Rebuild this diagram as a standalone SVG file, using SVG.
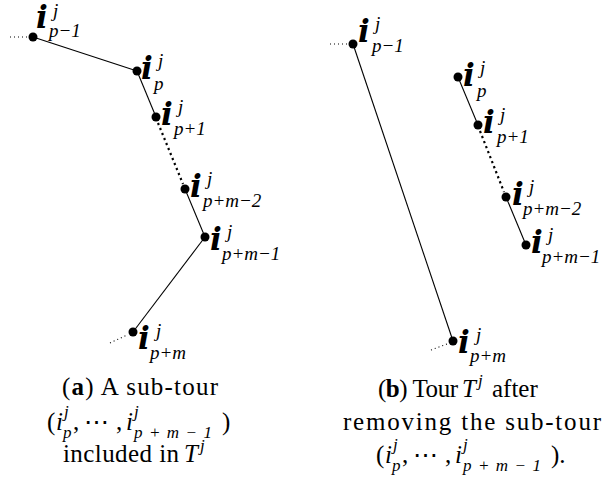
<svg xmlns="http://www.w3.org/2000/svg" width="602" height="478" viewBox="0 0 602 478">
<style>
text{font-family:"Liberation Serif","Times New Roman",serif;fill:#000}
.bi{font-family:"DejaVu Serif",serif;font-size:31px;font-weight:bold;font-style:italic}
.sc{font-size:19px;font-style:italic}
.cs{font-size:17px;font-style:italic}
.cap{font-size:25px}
.it{font-style:italic}
.b{font-weight:bold}
.dt{font-family:"DejaVu Serif",serif}
.dot{fill:#000}
.solid{stroke:#000;stroke-width:1.1;fill:none}
.lead{stroke:#000;stroke-width:1.1;stroke-dasharray:1 3;fill:none}
.gap{stroke:#000;stroke-width:2.2;stroke-dasharray:2.2 3.2;fill:none}
</style>
<g id="connectors">
<line class="lead" x1="10" y1="37" x2="27" y2="37"/>
<line class="solid" x1="33" y1="37" x2="137" y2="71"/>
<line class="solid" x1="137" y1="71" x2="156" y2="117"/>
<line class="gap" x1="158" y1="123" x2="183" y2="184"/>
<line class="solid" x1="185" y1="189" x2="205" y2="237"/>
<line class="solid" x1="205" y1="237" x2="133" y2="332"/>
<line class="lead" x1="110" y1="343" x2="127" y2="335"/>
<line class="lead" x1="330" y1="44" x2="347" y2="44"/>
<line class="solid" x1="353" y1="44" x2="453" y2="341"/>
<line class="solid" x1="458" y1="77" x2="478" y2="125"/>
<line class="gap" x1="480" y1="131" x2="504" y2="192"/>
<line class="solid" x1="506" y1="197" x2="526" y2="245"/>
<line class="lead" x1="431" y1="350" x2="447" y2="344"/>
</g>
<g id="a-pm1"><circle class="dot" cx="33" cy="37" r="4.5"/><text><tspan class="bi" x="36" y="28">i</tspan><tspan class="sc" x="53" y="17">j</tspan><tspan class="sc" x="49" y="37">p−1</tspan></text></g>
<g id="a-p"><circle class="dot" cx="137" cy="71" r="4.5"/><text><tspan class="bi" x="141" y="79">i</tspan><tspan class="sc" x="158" y="67">j</tspan><tspan class="sc" x="154" y="90">p</tspan></text></g>
<g id="a-pp1"><circle class="dot" cx="156" cy="117" r="4.5"/><text><tspan class="bi" x="161" y="125">i</tspan><tspan class="sc" x="178" y="113">j</tspan><tspan class="sc" x="174" y="135">p+1</tspan></text></g>
<g id="a-pm2"><circle class="dot" cx="185" cy="189" r="4.5"/><text><tspan class="bi" x="190" y="197">i</tspan><tspan class="sc" x="207" y="185">j</tspan><tspan class="sc" x="203" y="207">p+m−2</tspan></text></g>
<g id="a-pm1b"><circle class="dot" cx="205" cy="237" r="4.5"/><text><tspan class="bi" x="210" y="250">i</tspan><tspan class="sc" x="227" y="238">j</tspan><tspan class="sc" x="222" y="260">p+m−1</tspan></text></g>
<g id="a-pm"><circle class="dot" cx="133" cy="332" r="4.5"/><text><tspan class="bi" x="138" y="349">i</tspan><tspan class="sc" x="156" y="337">j</tspan><tspan class="sc" x="150" y="359">p+m</tspan></text></g>
<g id="b-pm1"><circle class="dot" cx="353" cy="44" r="4.5"/><text><tspan class="bi" x="358" y="42">i</tspan><tspan class="sc" x="375" y="30">j</tspan><tspan class="sc" x="372" y="52">p−1</tspan></text></g>
<g id="b-p"><circle class="dot" cx="458" cy="77" r="4.5"/><text><tspan class="bi" x="463" y="86">i</tspan><tspan class="sc" x="480" y="74">j</tspan><tspan class="sc" x="477" y="97">p</tspan></text></g>
<g id="b-pp1"><circle class="dot" cx="478" cy="125" r="4.5"/><text><tspan class="bi" x="483" y="133">i</tspan><tspan class="sc" x="500" y="121">j</tspan><tspan class="sc" x="497" y="143">p+1</tspan></text></g>
<g id="b-pm2"><circle class="dot" cx="506" cy="197" r="4.5"/><text><tspan class="bi" x="512" y="205">i</tspan><tspan class="sc" x="529" y="193">j</tspan><tspan class="sc" x="523" y="215">p+m−2</tspan></text></g>
<g id="b-pm1b"><circle class="dot" cx="526" cy="245" r="4.5"/><text><tspan class="bi" x="531" y="253">i</tspan><tspan class="sc" x="548" y="241">j</tspan><tspan class="sc" x="542" y="263">p+m−1</tspan></text></g>
<g id="b-pm"><circle class="dot" cx="453" cy="341" r="4.5"/><text><tspan class="bi" x="458" y="353">i</tspan><tspan class="sc" x="476" y="341">j</tspan><tspan class="sc" x="470" y="362">p+m</tspan></text></g>
<g id="caption-a">
<text class="cap" x="62" y="395" textLength="156" lengthAdjust="spacing">(<tspan class="b">a</tspan>) A sub-tour</text>
<text class="cap"><tspan x="47" y="430">(</tspan><tspan class="it" x="56" y="430">i</tspan><tspan class="cs" x="64" y="417">j</tspan><tspan class="cs" x="63" y="438">p</tspan><tspan x="73" y="430">,</tspan><tspan class="dt" x="84" y="430" textLength="28">⋯</tspan><tspan x="116" y="430">,</tspan><tspan class="it" x="126" y="430">i</tspan><tspan class="cs" x="134" y="417">j</tspan><tspan class="cs" x="134" y="438" textLength="78" lengthAdjust="spacing">p+m−1</tspan><tspan x="222" y="430">)</tspan></text>
<text class="cap"><tspan x="63" y="462" textLength="116" lengthAdjust="spacing">included in</tspan><tspan class="it" x="184" y="462">T</tspan><tspan class="cs" x="200" y="451">j</tspan></text>
</g>
<g id="caption-b">
<text class="cap"><tspan x="378" y="397" textLength="80" lengthAdjust="spacing">(<tspan class="b">b</tspan>) Tour</tspan><tspan class="it" x="462" y="397">T</tspan><tspan class="cs" x="478" y="386">j</tspan><tspan x="492" y="397">after</tspan></text>
<text class="cap" x="343" y="430" textLength="258" lengthAdjust="spacing">removing the sub-tour</text>
<text class="cap"><tspan x="376" y="463">(</tspan><tspan class="it" x="385" y="463">i</tspan><tspan class="cs" x="393" y="450">j</tspan><tspan class="cs" x="392" y="471">p</tspan><tspan x="402" y="463">,</tspan><tspan class="dt" x="413" y="463" textLength="28">⋯</tspan><tspan x="445" y="463">,</tspan><tspan class="it" x="455" y="463">i</tspan><tspan class="cs" x="463" y="450">j</tspan><tspan class="cs" x="463" y="471" textLength="78" lengthAdjust="spacing">p+m−1</tspan><tspan x="551" y="463">).</tspan></text>
</g>
</svg>
